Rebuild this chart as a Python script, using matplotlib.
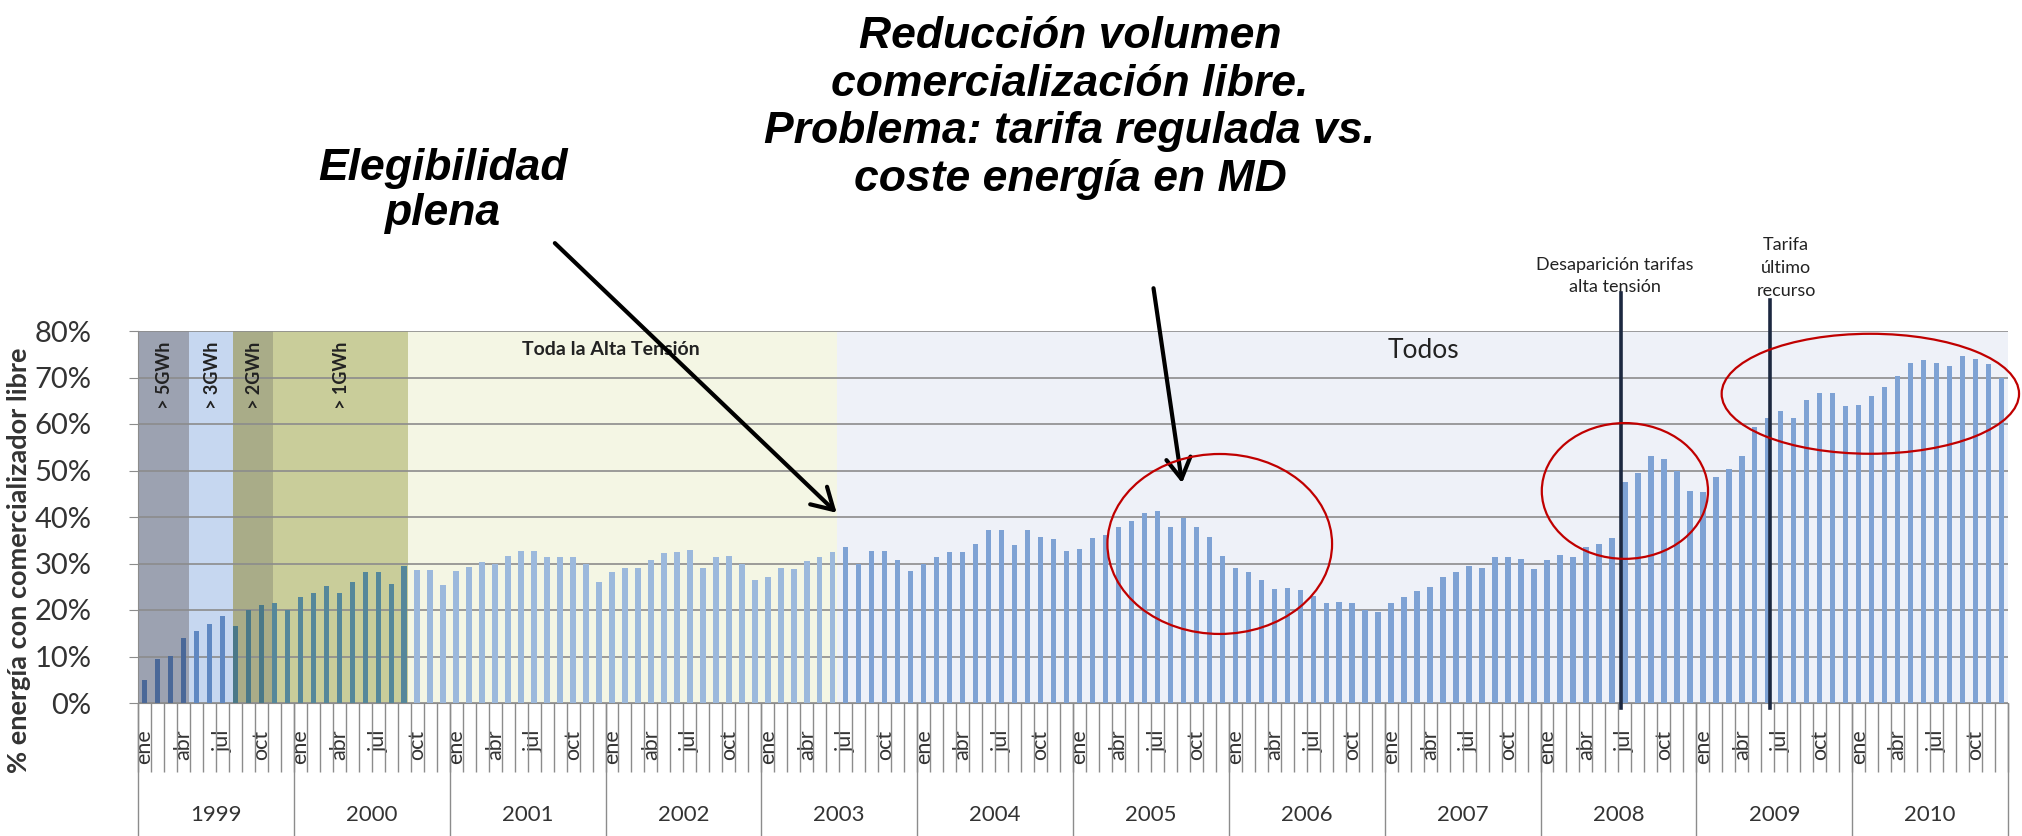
import matplotlib.pyplot as plt
import numpy as np
from matplotlib.patches import Ellipse

# % energia con comercializador libre, monthly Jan 1999 - Dec 2010
share_1999 = [5.0, 9.4, 10.1, 14.0, 15.5, 17.0, 18.7, 16.5, 19.9, 21.1, 21.4, 19.9]
share_2000 = [22.7, 23.7, 25.2, 23.7, 26.1, 28.1, 28.1, 25.5, 29.5, 28.6, 28.6, 25.4]
share_2001 = [28.3, 29.3, 30.4, 30.0, 31.7, 32.7, 32.6, 31.3, 31.4, 31.4, 30.0, 26.1]
share_2002 = [28.1, 29.0, 29.0, 30.7, 32.2, 32.4, 32.9, 29.0, 31.4, 31.6, 30.0, 26.4]
share_2003 = [27.1, 29.0, 28.8, 30.6, 31.3, 32.4, 33.5, 29.9, 32.7, 32.6, 30.7, 28.3]
share_2004 = [29.9, 31.4, 32.4, 32.4, 34.2, 37.1, 37.2, 34.0, 37.2, 35.6, 35.3, 32.6]
share_2005 = [33.1, 35.5, 36.2, 37.9, 39.1, 40.8, 41.2, 37.9, 39.8, 37.9, 35.8, 31.7]
share_2006 = [29.0, 28.1, 26.4, 24.5, 24.7, 24.2, 23.0, 21.6, 21.8, 21.6, 20.1, 19.6]
share_2007 = [21.4, 22.7, 24.0, 25.0, 27.1, 28.1, 29.5, 29.1, 31.4, 31.4, 30.9, 28.8]
share_2008 = [30.7, 31.9, 31.4, 33.5, 34.3, 35.5, 47.5, 49.4, 53.1, 52.4, 49.9, 45.5]
share_2009 = [45.3, 48.5, 50.4, 53.1, 59.3, 61.3, 62.9, 61.3, 65.1, 66.7, 66.7, 63.8]
share_2010 = [64.0, 66.0, 67.9, 70.3, 73.1, 73.8, 73.2, 72.4, 74.7, 74.0, 72.9, 70.0]

years = ['1999', '2000', '2001', '2002', '2003', '2004',
         '2005', '2006', '2007', '2008', '2009', '2010']
month_labels = ['ene', 'abr', 'jul', 'oct']

# eligibility phases (month index where each one starts)
phase_names = ['> 5GWh', '> 3GWh', '> 2GWh', '> 1GWh', 'Toda la Alta Tensión', 'Todos']
phase_starts = [-0.5, 3.4, 6.8, 9.9, 20.3, 53.3]
phase_bg = ['#9ca2b1', '#c6d7f0', '#a9ac88', '#c9cd9a', '#f4f6e4', '#eef1f8']
phase_bar = ['#4a6898', '#5f88c2', '#4a7888', '#55879a', '#9cb9dc', '#7ea2d4']

values = np.array(share_1999 + share_2000 + share_2001 + share_2002 + share_2003 + share_2004
                  + share_2005 + share_2006 + share_2007 + share_2008 + share_2009 + share_2010)
n = len(values)
x = np.arange(n)
edges = phase_starts + [n - 0.5]

grid_col = '#8c8c8c'
txt_col = '#333333'
calibri = ['Lato', 'DejaVu Sans']

fig = plt.figure(figsize=(20.22, 8.36), dpi=100)
ax = fig.add_axes([138 / 2022, 1 - 703 / 836, 1870 / 2022, 372 / 836])

bar_colors = []
for i in x:
    p = np.searchsorted(phase_starts, i) - 1
    bar_colors.append(phase_bar[p])

for i in range(len(phase_names)):
    ax.axvspan(edges[i], edges[i + 1], color=phase_bg[i], lw=0, zorder=0)

ax.bar(x, values, width=0.42, color=bar_colors, zorder=2)

ax.set_xlim(-0.5, n - 0.5)
ax.set_ylim(0, 80)
ax.set_axisbelow(True)
ax.yaxis.grid(True, color=grid_col, lw=1.2)

yt = np.arange(0, 81, 10)
ax.set_yticks(yt)
ax.set_yticklabels([f'{v}%' for v in yt], fontsize=21, color=txt_col, family=calibri)
ax.tick_params(axis='y', length=6.5, color=grid_col, pad=27)

ax.set_xticks(np.arange(0, n, 3))
ax.set_xticklabels(month_labels * len(years), rotation=90, fontsize=15.5, color=txt_col,
                   family=calibri)
ax.set_xticks(np.arange(-0.5, n, 1), minor=True)
ax.tick_params(axis='x', which='major', length=0, pad=19)
ax.tick_params(axis='x', which='minor', length=50, color=grid_col, width=1)
ax.vlines(np.arange(-0.5, n, 12), -0.36, 0, transform=ax.get_xaxis_transform(),
          color=grid_col, lw=1, clip_on=False)
for i, yr in enumerate(years):
    ax.text(i * 12 + 5.5, -0.301, yr, transform=ax.get_xaxis_transform(), ha='center',
            va='center', fontsize=16, color=txt_col, family=calibri)

for s in ['top', 'right']:
    ax.spines[s].set_visible(False)
ax.spines['left'].set_color(grid_col)
ax.spines['bottom'].set_color(grid_col)

# phase labels
for i in range(4):
    ax.text((edges[i] + edges[i + 1]) / 2 + 0.1, 70.5, phase_names[i], rotation=90,
            ha='center', va='center', fontsize=13, fontweight='bold', color='#222222',
            family=calibri, zorder=3)
ax.text(29.1, 76.1, phase_names[4], ha='left', va='center', fontsize=14,
        fontweight='bold', color='#222222', family=calibri, zorder=3)
ax.text(98.5, 75.7, phase_names[5], ha='center', va='center', fontsize=19,
        color='#222222', family=calibri, zorder=3)

# regulatory events
ax.plot([113.7, 113.7], [-1, 88.2], color='#1c2840', lw=2.6, clip_on=False, zorder=4)
ax.plot([125.2, 125.2], [-1, 86.7], color='#1c2840', lw=2.6, clip_on=False, zorder=4)
ax.text(113.2, 91.8, 'Desaparición tarifas\nalta tensión', ha='center', va='center',
        fontsize=13, linespacing=1.5, color='#222222', family=calibri)
ax.text(126.4, 93.5, 'Tarifa\núltimo\nrecurso', ha='center', va='center',
        fontsize=13, linespacing=1.55, color='#222222', family=calibri)

# red highlight ellipses
for cx, cy, w, h in [(82.8, 34.2, 17.3, 38.7), (114.0, 45.6, 12.8, 29.2),
                     (132.9, 66.5, 22.9, 25.8)]:
    ax.add_patch(Ellipse((cx, cy), w, h, fill=False, ec='#c00000', lw=1.6,
                         clip_on=False, zorder=5))

# commentary arrows
arrow = dict(arrowstyle='->,head_length=0.6,head_width=0.35', lw=3, color='black',
             mutation_scale=25, shrinkA=0, shrinkB=0)
ax.annotate('', xy=(53.3, 40.9), xytext=(31.6, 98.9), arrowprops=arrow,
            annotation_clip=False)
ax.annotate('', xy=(79.9, 47.3), xytext=(77.7, 89.2), arrowprops=arrow,
            annotation_clip=False)

fig.text(1070 / 2022, 1 - 108 / 836,
         'Reducción volumen\ncomercialización libre.\nProblema: tarifa regulada vs.\n'
         'coste energía en MD', ha='center', va='center', fontsize=32,
         fontweight='bold', fontstyle='italic', family=['Liberation Sans', 'DejaVu Sans'],
         linespacing=1.2)
fig.text(443 / 2022, 1 - 191 / 836, 'Elegibilidad\nplena', ha='center', va='center',
         fontsize=32, fontweight='bold', fontstyle='italic',
         family=['Liberation Sans', 'DejaVu Sans'], linespacing=1.15)

fig.text(19 / 2022, 1 - 560 / 836, '% energía con comercializador libre', rotation=90,
         ha='center', va='center', fontsize=19.5, fontweight='bold', color=txt_col,
         family=calibri)

fig.savefig('out.png', dpi=100)
